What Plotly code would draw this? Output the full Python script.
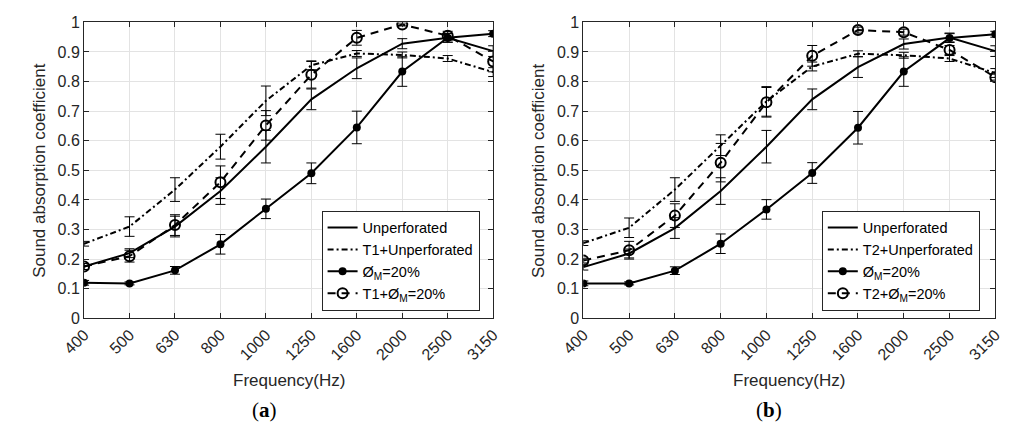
import plotly.graph_objects as go

W, H = 1014, 432

freqs = ["400", "500", "630", "800", "1000", "1250", "1600", "2000", "2500", "3150"]
yticks = [0, 0.1, 0.2, 0.3, 0.4, 0.5, 0.6, 0.7, 0.8, 0.9, 1.0]
ytick_labels = ["0", "0.1", "0.2", "0.3", "0.4", "0.5", "0.6", "0.7", "0.8", "0.9", "1"]

# Panel (a)
unperf_a = [0.175, 0.22, 0.31, 0.43, 0.58, 0.74, 0.845, 0.928, 0.948, 0.903]
unperf_a_err = [0.01, 0.015, 0.035, 0.045, 0.055, 0.035, 0.035, 0.017, 0.015, 0.018]
t1unperf = [0.252, 0.31, 0.435, 0.58, 0.735, 0.855, 0.895, 0.89, 0.878, 0.832]
t1unperf_err = [0.008, 0.033, 0.04, 0.042, 0.05, 0.015, 0.01, 0.01, 0.01, 0.015]
pm_a = [0.12, 0.118, 0.162, 0.25, 0.37, 0.49, 0.645, 0.834, 0.948, 0.962]
pm_a_err = [0.008, 0.005, 0.013, 0.033, 0.033, 0.035, 0.055, 0.05, 0.015, 0.01]
t1pm = [0.175, 0.21, 0.315, 0.46, 0.652, 0.823, 0.948, 0.993, 0.955, 0.868]
t1pm_err = [0.01, 0.02, 0.035, 0.055, 0.05, 0.045, 0.025, 0.005, 0.015, 0.035]

# Panel (b)
unperf_b = [0.173, 0.219, 0.305, 0.43, 0.58, 0.74, 0.849, 0.927, 0.949, 0.903]
unperf_b_err = [0.01, 0.015, 0.035, 0.045, 0.055, 0.035, 0.035, 0.017, 0.015, 0.018]
t2unperf = [0.254, 0.306, 0.435, 0.585, 0.733, 0.851, 0.894, 0.889, 0.878, 0.829]
t2unperf_err = [0.008, 0.033, 0.04, 0.035, 0.05, 0.015, 0.01, 0.01, 0.01, 0.015]
pm_b = [0.118, 0.118, 0.161, 0.252, 0.368, 0.491, 0.644, 0.834, 0.947, 0.96]
pm_b_err = [0.008, 0.005, 0.013, 0.033, 0.033, 0.035, 0.055, 0.05, 0.015, 0.01]
t2pm = [0.195, 0.23, 0.347, 0.526, 0.73, 0.887, 0.974, 0.967, 0.907, 0.815]
t2pm_err = [0.008, 0.03, 0.04, 0.065, 0.05, 0.035, 0.01, 0.01, 0.015, 0.01]

INK = "#262626"
FONT = "Liberation Sans, Arial, sans-serif"

fig = go.Figure()


def add_panel(xa, ya, leg, names, series):
    styles = [
        dict(mode="lines", line=dict(color="black", width=2), marker=None),
        dict(mode="lines", line=dict(color="black", width=2, dash="6px,3px,2px,3px"), marker=None),
        dict(mode="lines+markers", line=dict(color="black", width=2),
             marker=dict(symbol="circle", size=8, color="black")),
        dict(mode="lines+markers", line=dict(color="black", width=2, dash="8px,6px"),
             marker=dict(symbol="circle-open", size=10, color="black", line=dict(width=2, color="black"))),
    ]
    for name, (vals, errs), st in zip(names, series, styles):
        kw = dict(x=freqs, y=vals, name=name, mode=st["mode"], line=st["line"],
                  error_y=dict(type="data", array=errs, visible=True, color="black",
                               thickness=1, width=5),
                  xaxis=xa, yaxis=ya, legend=leg)
        if st["marker"] is not None:
            kw["marker"] = st["marker"]
        fig.add_trace(go.Scatter(**kw))


SUBM = "Ø<sub>M</sub>"
add_panel("x", "y", "legend",
          ["Unperforated", "T1+Unperforated", SUBM + "=20%", "T1+" + SUBM + "=20%"],
          [(unperf_a, unperf_a_err), (t1unperf, t1unperf_err), (pm_a, pm_a_err), (t1pm, t1pm_err)])
add_panel("x2", "y2", "legend2",
          ["Unperforated", "T2+Unperforated", SUBM + "=20%", "T2+" + SUBM + "=20%"],
          [(unperf_b, unperf_b_err), (t2unperf, t2unperf_err), (pm_b, pm_b_err), (t2pm, t2pm_err)])

ydom = [1 - 323 / H, 1 - 15 / H]
xdom1 = [63 / W, 485 / W]
xdom2 = [578 / W, 1003 / W]

xcommon = dict(type="category", range=[0, 9], showgrid=True, gridcolor="#e3e3e3", gridwidth=1,
               showline=True, linecolor=INK, linewidth=1, mirror="ticks",
               ticks="inside", ticklen=5, tickcolor=INK, tickangle=-45,
               tickfont=dict(family=FONT, size=16, color=INK), zeroline=False)
ycommon = dict(range=[0, 1], tickvals=yticks, ticktext=ytick_labels, showgrid=True,
               gridcolor="#e3e3e3", gridwidth=1, showline=True, linecolor=INK, linewidth=1,
               mirror="ticks", ticks="inside", ticklen=5, tickcolor=INK,
               tickfont=dict(family=FONT, size=16, color=INK), zeroline=False)

legcommon = dict(bgcolor="white", bordercolor=INK, borderwidth=1,
                 font=dict(family=FONT, size=14.5, color="black"),
                 xanchor="left", yanchor="top", tracegroupgap=0)

fig.update_layout(
    width=W, height=H, margin=dict(l=0, r=0, t=0, b=0),
    paper_bgcolor="white", plot_bgcolor="white",
    showlegend=True,
    xaxis=dict(domain=xdom1, anchor="y", **xcommon),
    yaxis=dict(domain=ydom, anchor="x", **ycommon),
    xaxis2=dict(domain=xdom2, anchor="y2", **xcommon),
    yaxis2=dict(domain=ydom, anchor="x2", **ycommon),
    legend=dict(x=308 / W, y=1 - 211 / H, **legcommon),
    legend2=dict(x=824 / W, y=1 - 211 / H, **legcommon),
)

annos = [
    dict(text="Sound absorption coefficient", x=17 / W, y=1 - 169 / H, textangle=-90,
         font=dict(family=FONT, size=17, color=INK)),
    dict(text="Sound absorption coefficient", x=532 / W, y=1 - 169 / H, textangle=-90,
         font=dict(family=FONT, size=17, color=INK)),
    dict(text="Frequency(Hz)", x=274 / W, y=1 - 388 / H,
         font=dict(family=FONT, size=17, color=INK)),
    dict(text="Frequency(Hz)", x=790 / W, y=1 - 388 / H,
         font=dict(family=FONT, size=17, color=INK)),
    dict(text="(<b>a</b>)", x=249 / W, y=1 - 418 / H,
         font=dict(family="Liberation Serif, serif", size=21, color="black")),
    dict(text="(<b>b</b>)", x=770 / W, y=1 - 418 / H,
         font=dict(family="Liberation Serif, serif", size=21, color="black")),
]
for a in annos:
    fig.add_annotation(xref="paper", yref="paper", xanchor="center", yanchor="middle",
                       showarrow=False, **a)

fig.write_html("out.html")
